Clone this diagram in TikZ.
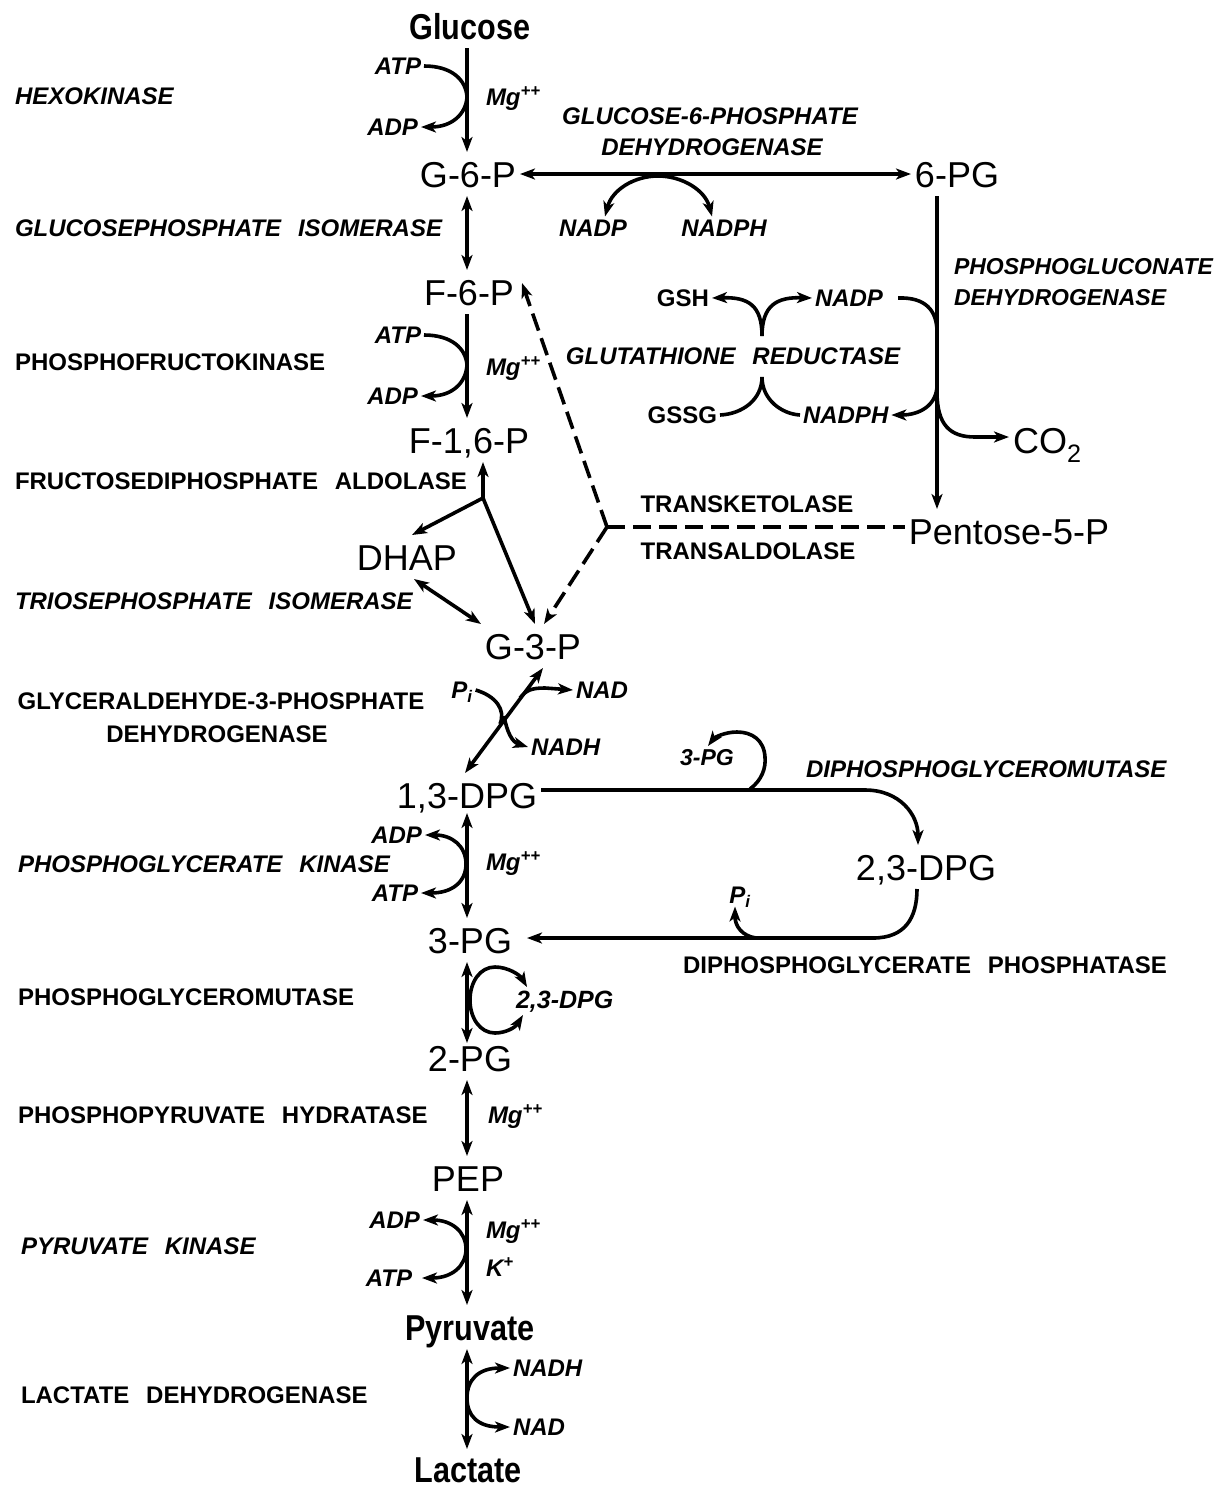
\documentclass[tikz,border=0pt]{standalone}
\usepackage{fontspec}
\setmainfont{Liberation Sans}
\newfontfamily\condfont{Liberation Sans}[FakeStretch=0.85]
\usetikzlibrary{arrows.meta}
\newcommand\bigf{\fontsize{36}{40}\selectfont}
\newcommand\bigcf{\condfont\bfseries\fontsize{36}{40}\selectfont}
\newcommand\labf{\bfseries\fontsize{24}{28}\selectfont}
\newcommand\labif{\bfseries\itshape\fontsize{24}{28}\selectfont}
\newcommand\smlabif{\bfseries\itshape\fontsize{23}{27}\selectfont}
\newcommand\wsp{\hspace{0.7em}}
\newcommand\mgpp{Mg\textsuperscript{++}}
\tikzset{
  mytip/.tip={Stealth[length=15pt,width=11pt,inset=4pt]},
  ln/.style={line width=3.6pt},
  arr/.style={ln,-mytip},
  darr/.style={ln,mytip-mytip},
  dsh/.style={line width=3.6pt,dash pattern=on 18pt off 8pt,-mytip},
  big/.style={font=\bigf,inner sep=0pt,outer xsep=4pt,outer ysep=9pt,text height=26pt,text depth=0pt},
  bigc/.style={big,font=\bigcf},
  lab/.style={font=\labf,inner sep=0pt,outer sep=3pt,text height=17pt,text depth=0pt},
  labi/.style={lab,font=\labif},
}
\begin{document}
\begin{tikzpicture}[x=1pt,y=-1pt]
\fill[white] (0,0) rectangle (1223,1489);
\useasboundingbox (0,0) rectangle (1223,1489);

% ---------- metabolites ----------
\node[bigc] (glc) at (470,26) {Glucose};
\node[big] (g6p) at (468,174) {G-6-P};
\node[big] (pg6) at (957,174) {6-PG};
\node[big] (f6p) at (469,292) {F-6-P};
\node[big] (f16p) at (469,440) {F-1,6-P};
\node[big] (dhap) at (407,557) {DHAP};
\node[big] (g3p) at (533,646) {G-3-P};
\node[big] (dpg13) at (467,795) {1,3-DPG};
\node[big] (dpg23) at (926,867) {2,3-DPG};
\node[big] (pg3) at (470,940) {3-PG};
\node[big] (pg2) at (470,1058) {2-PG};
\node[big] (pep) at (468,1178) {PEP};
\node[bigc] (pyr) at (470,1327) {Pyruvate};
\node[bigc] (lac) at (468,1469) {Lactate};
\node[big] (p5p) at (1009,531) {Pentose-5-P};
\node[big,anchor=west] (co2) at (1009,440) {CO\textsubscript{2}};

% ---------- enzymes ----------
\node[labi,anchor=west] (hex) at (12,96) {HEXOKINASE};
\node[labi,anchor=west] (gpi) at (12,228) {GLUCOSEPHOSPHATE\wsp ISOMERASE};
\node[lab,anchor=west] (pfk) at (12,362) {PHOSPHOFRUCTOKINASE};
\node[lab,anchor=west] (aldo) at (12,481) {FRUCTOSEDIPHOSPHATE\wsp ALDOLASE};
\node[labi,anchor=west] (tpi) at (12,601) {TRIOSEPHOSPHATE\wsp ISOMERASE};
\node[lab] (gapdh1) at (221,701) {GLYCERALDEHYDE-3-PHOSPHATE};
\node[lab] (gapdh2) at (217,734) {DEHYDROGENASE};
\node[labi,anchor=west] (pgk) at (15,864) {PHOSPHOGLYCERATE\wsp KINASE};
\node[lab,anchor=west] (pgm) at (15,997) {PHOSPHOGLYCEROMUTASE};
\node[lab,anchor=west] (eno) at (15,1115) {PHOSPHOPYRUVATE\wsp HYDRATASE};
\node[labi,anchor=west] (pk) at (18,1246) {PYRUVATE\wsp KINASE};
\node[lab,anchor=west] (ldh) at (18,1395) {LACTATE\wsp DEHYDROGENASE};
\node[labi] (g6pd1) at (710,116) {GLUCOSE-6-PHOSPHATE};
\node[labi] (g6pd2) at (712,147) {DEHYDROGENASE};
\node[labi,font=\smlabif,anchor=west] (pgd1) at (951,266) {PHOSPHOGLUCONATE};
\node[labi,font=\smlabif,anchor=west] (pgd2) at (951,297) {DEHYDROGENASE};
\node[labi] (gr) at (733,356) {GLUTATHIONE\wsp REDUCTASE};
\node[lab] (tk) at (747,504) {TRANSKETOLASE};
\node[lab] (ta) at (748,551) {TRANSALDOLASE};
\node[labi,anchor=west] (dpgm) at (803,769) {DIPHOSPHOGLYCEROMUTASE};
\node[lab,anchor=west] (dpgp) at (680,965) {DIPHOSPHOGLYCERATE\wsp PHOSPHATASE};

% ---------- cofactors ----------
\node[labi,anchor=east] (atp1) at (424,66) {ATP};
\node[labi,anchor=east] (adp1) at (421,127) {ADP};
\node[labi,anchor=west] (mg1) at (483,97) {\mgpp};
\node[labi] (nadp1) at (593,228) {NADP};
\node[labi] (nadph1) at (724,228) {NADPH};
\node[labi,anchor=east] (atp2) at (424,335) {ATP};
\node[labi,anchor=east] (adp2) at (421,396) {ADP};
\node[labi,anchor=west] (mg2) at (483,367) {\mgpp};
\node[lab,anchor=east] (gsh) at (712,298) {GSH};
\node[labi,anchor=west] (nadp2) at (812,298) {NADP};
\node[lab,anchor=east] (gssg) at (720,415) {GSSG};
\node[labi,anchor=west] (nadph2) at (800,415) {NADPH};
\node[labi] (pi1) at (462,690) {P\textsubscript{i}};
\node[labi,anchor=west] (nad1) at (573,690) {NAD};
\node[labi,anchor=west] (nadh1) at (528,747) {NADH};
\node[labi,font=\bfseries\itshape\fontsize{23}{27}\selectfont] (pg3l) at (707,757) {3-PG};
\node[labi,anchor=east] (adp3) at (425,835) {ADP};
\node[labi,anchor=east] (atp3) at (421,893) {ATP};
\node[labi,anchor=west] (mg3) at (483,862) {\mgpp};
\node[labi] (pi2) at (740,895) {P\textsubscript{i}};
\node[labi,anchor=west,font=\bfseries\itshape\fontsize{25}{29}\selectfont] (dpg23l) at (513,1000) {2,3-DPG};
\node[labi,anchor=west] (mg4) at (485,1115) {\mgpp};
\node[labi,anchor=east] (adp4) at (423,1220) {ADP};
\node[labi,anchor=east] (atp4) at (415,1278) {ATP};
\node[labi,anchor=west] (mg5) at (483,1230) {\mgpp};
\node[labi,anchor=west] (k5) at (483,1268) {K\textsuperscript{+}};
\node[labi,anchor=west] (nadh5) at (510,1368) {NADH};
\node[labi,anchor=west] (nad5) at (510,1427) {NAD};

% ---------- junction coordinates ----------
\coordinate (ax) at (467,0);
\coordinate (pgdx) at (937,0);
\coordinate (aldj) at (483,498);
\coordinate (tkj) at (607,527);
\coordinate (g6pdtop) at (658,176);
\coordinate (grU) at (762,336);
\coordinate (grL) at (762,377);
\coordinate (pgdj) at (937,392);
\coordinate (pgkj) at (466,864);
\coordinate (loopst) at (750,789);
\coordinate (pi2j) at (756,938);
\coordinate (pkj) at (466,1249);
\coordinate (ldhj) at (467,1398);

% ---------- main glycolytic axis ----------
\draw[arr] (glc.south -| ax) -- (g6p.north -| ax);
\draw[darr] (g6p.south -| ax) -- (f6p.north -| ax);
\draw[arr] (f6p.south -| ax) -- (f16p.north -| ax);
\draw[darr] ([shift={(0,-4)}]dpg13.south -| ax) -- (pg3.north -| ax);
\draw[darr] (pg3.south -| ax) -- ([shift={(0,7)}]pg2.north -| ax);
\draw[darr] (pg2.south -| ax) -- (pep.north -| ax);
\draw[darr] (pep.south -| ax) -- (pyr.north -| ax);
\draw[darr] (pyr.south -| ax) -- ([shift={(0,2)}]lac.north -| ax);

% hexokinase / PFK side reactions
\draw[arr] (atp1.east) .. controls (452,66) and (466,80) .. (467,97) .. controls (466,114) and (452,127) .. (adp1.east);
\draw[arr] (atp2.east) .. controls (452,335) and (466,349) .. (467,365) .. controls (466,383) and (452,396) .. (adp2.east);

% aldolase
\draw[arr] (aldj) -- (f16p.south -| aldj);
\draw[arr] (aldj) -- ([xshift=5pt]dhap.north);
\draw[arr] (aldj) -- ([xshift=2pt]g3p.north);
\draw[darr] ([xshift=7pt]dhap.south) -- (g3p.north west);

% G-3-P dehydrogenase
\draw[darr] ([xshift=10pt]g3p.south) -- ([xshift=-2pt]dpg13.north);
\draw[ln] (pi1.east) .. controls (496,696) and (506,710) .. (500,724);
\draw[arr] (520,698) .. controls (526,690) and (532,688) .. (545,688) -- (nad1.west);
\draw[arr] (504,716) .. controls (507,732) and (512,742) .. (nadh1.west);

% PGK
\draw[arr] (pgkj) .. controls (466,846) and (452,835) .. (adp3.east);
\draw[arr] (pgkj) .. controls (466,882) and (452,893) .. (atp3.east);

% PGM loop
\draw[darr] (523,1015) .. controls (515,1028) and (505,1033) .. (495,1033)
  .. controls (480,1033) and (470,1018) .. (470,1000)
  .. controls (470,982) and (480,967) .. (495,967)
  .. controls (508,967) and (520,975) .. (527,987);

% pyruvate kinase
\draw[arr] (pkj) .. controls (466,1232) and (452,1220) .. (adp4.east);
\draw[arr] (pkj) .. controls (466,1266) and (452,1278) .. ([xshift=7pt]atp4.east);

% LDH
\draw[arr] (ldhj) .. controls (467,1380) and (478,1368) .. (nadh5.west);
\draw[arr] (ldhj) .. controls (467,1416) and (478,1427) .. (nad5.west);

% ---------- pentose phosphate pathway ----------
\draw[darr] (g6p.east) -- (pg6.west);
\draw[arr] (g6pdtop) .. controls (634,176) and (612,190) .. ([xshift=12pt]nadp1.north);
\draw[arr] (g6pdtop) .. controls (682,176) and (705,190) .. ([xshift=-12pt]nadph1.north);
\draw[arr] (pg6.south -| pgdx) -- (p5p.north -| pgdx);
\draw[arr] ([xshift=12pt]nadp2.east) .. controls (925,297) and (937,310) .. (937,332) -- (937,385)
  .. controls (937,405) and (920,415) .. (nadph2.east);
\draw[arr] (pgdj) .. controls (937,425) and (950,437) .. (975,437) -- (co2.west |- 975,437);

% glutathione reductase
\draw[arr] (grU) .. controls (762,305) and (748,297) .. (gsh.east);
\draw[arr] (grU) .. controls (762,305) and (777,297) .. (nadp2.west);
\draw[ln] (grL) .. controls (762,400) and (742,414) .. (gssg.east);
\draw[ln] (grL) .. controls (762,400) and (782,414) .. (nadph2.west);

% transketolase / transaldolase
\draw[dsh] (tkj) -- ([shift={(4,-9)}]f6p.east);
\draw[dsh] (tkj) -- ([xshift=11pt]g3p.north);
\draw[line width=3.6pt,dash pattern=on 18pt off 8pt] (tkj) -- (tkj -| p5p.west);

% ---------- 2,3-DPG shunt ----------
\draw[arr] ([shift={(0,-5)}]dpg13.east) -- (865,790) .. controls (900,790) and (918,815) .. ([xshift=-8pt]dpg23.north);
\draw[arr] (loopst) .. controls (762,780) and (766,768) .. (765,757)
  .. controls (764,740) and (752,732) .. (737,732)
  .. controls (724,732) and (714,738) .. (708,746);
\draw[arr] ([xshift=-9pt]dpg23.south) .. controls (917,918) and (905,938) .. (873,938) -- ([shift={(11,-2)}]pg3.east);
\draw[arr] (pi2j) .. controls (742,936) and (735,926) .. ([xshift=-5pt]pi2.south);
\end{tikzpicture}
\end{document}
